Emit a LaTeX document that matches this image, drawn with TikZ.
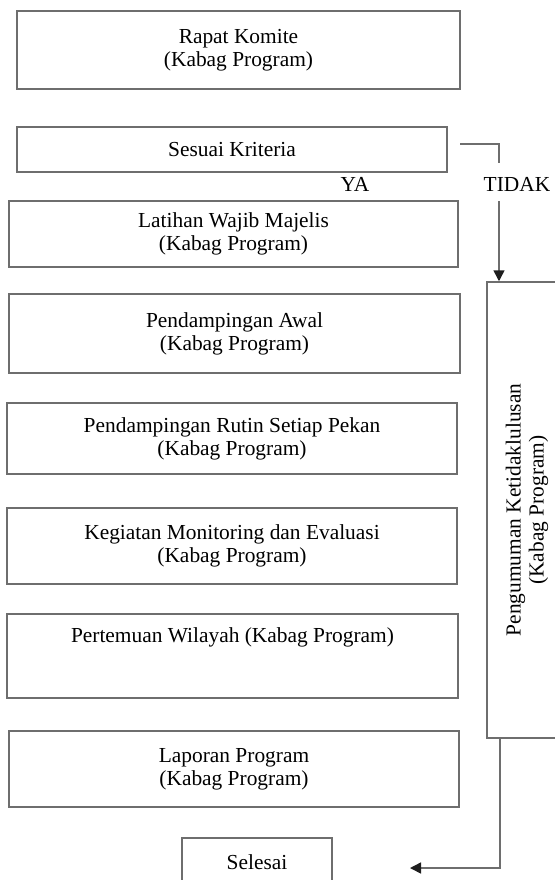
\documentclass[tikz,border=0pt]{standalone}
\usepackage{fontspec}
\setmainfont{Liberation Serif}
\usepackage{tikz}
\usetikzlibrary{arrows.meta,positioning}
\definecolor{linegray}{RGB}{110,110,110}
\definecolor{tipgray}{RGB}{30,30,30}

\begin{document}
\begin{tikzpicture}[
    x=0.5pt, y=-0.5pt,
    every node/.style={align=center, font=\fontsize{10.7}{11.5}\selectfont},
    stepbox/.style={rectangle, draw=linegray, line width=0.75pt, inner sep=3pt},
    connector/.style={draw=linegray, line width=0.75pt},
    arrow/.style={connector, -{Triangle[width=5.5pt,length=5.5pt,fill=tipgray,color=tipgray]}}
]
\useasboundingbox (0,0) rectangle (555,880);

% Main sequence
\node[stepbox, minimum width=221.5pt, minimum height=39pt] (rapat) at (238.5,50) {Rapat Komite\\(Kabag Program)};
\node[stepbox, minimum width=215pt, minimum height=22.5pt] (sesuai) at (232,149.5) {Sesuai Kriteria};
\node[stepbox, minimum width=224.5pt, minimum height=33pt] (latihan) at (233.5,234) {Latihan Wajib Majelis\\(Kabag Program)};
\node[stepbox, minimum width=225.5pt, minimum height=39.5pt] (awal) at (234.5,333.5) {Pendampingan Awal\\(Kabag Program)};
\node[stepbox, minimum width=225pt, minimum height=35.5pt] (rutin) at (232,438.5) {Pendampingan Rutin Setiap Pekan\\(Kabag Program)};
\node[stepbox, minimum width=225pt, minimum height=38pt] (monev) at (232,546) {Kegiatan Monitoring dan Evaluasi\\(Kabag Program)};
\node[stepbox, minimum width=225.5pt, minimum height=42pt, text height=11pt, text depth=25pt] (wilayah) at (232.5,656) {Pertemuan Wilayah (Kabag Program)};
\node[stepbox, minimum width=225pt, minimum height=38pt] (laporan) at (234,769) {Laporan Program\\(Kabag Program)};
\node[stepbox, minimum width=75pt, minimum height=24pt] (selesai) at (257,862) {Selesai};

% Rejection branch
\node[stepbox, rotate=90, minimum width=228pt, minimum height=40pt] (pengumuman) at (527,510) {Pengumuman Ketidaklulusan\\(Kabag Program)};
\node (ya) at (355,184) {YA};
\node (tidak) at (517,184) {TIDAK};

% Connections
\coordinate (tstart) at (460,144);
\coordinate (tbend) at (499,163);
\coordinate (tresume) at (499,201);
\coordinate (fdown) at (500,738);
\coordinate (fend) at (410,868);
\draw[connector] (tstart) -| (tbend);
\draw[arrow] (tresume) -- (tresume |- pengumuman.east);
\draw[arrow] (fdown) |- (fend);

\end{tikzpicture}
\end{document}
